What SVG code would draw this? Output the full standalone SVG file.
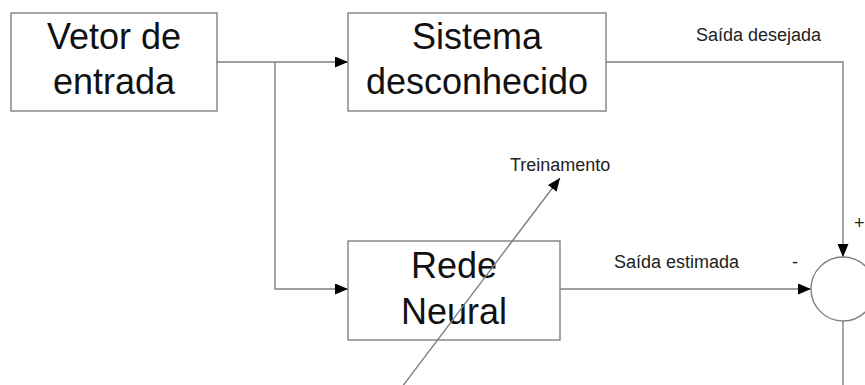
<svg xmlns="http://www.w3.org/2000/svg" width="865" height="385" viewBox="0 0 865 385">
<style>
.box{fill:#fff;stroke:#808080;stroke-width:1.4}
.big{font-family:"Liberation Sans",Arial,sans-serif;font-size:36px;fill:#111;text-anchor:middle}
.small{font-family:"Liberation Sans",Arial,sans-serif;font-size:18px;fill:#222}
.ln{fill:none;stroke:#808080;stroke-width:1.4}
</style>
<defs>
<marker id="ah" markerUnits="userSpaceOnUse" markerWidth="14" markerHeight="12" refX="13" refY="5.5" orient="auto">
<path d="M0,0 L13,5.5 L0,11 z" fill="#000"/>
</marker>
</defs>
<rect width="865" height="385" fill="#fff"/>
<g id="connectors">
<path class="ln" d="M217,62 H348" marker-end="url(#ah)"/>
<path class="ln" d="M275,62 V289 H348" marker-end="url(#ah)"/>
<path class="ln" d="M606,62 H843 V257" marker-end="url(#ah)"/>
<path class="ln" d="M560,289 H811" marker-end="url(#ah)"/>
<path class="ln" d="M843,321 V385"/>
<text class="small" x="696" y="41">Saída desejada</text>
<text class="small" x="614" y="268">Saída estimada</text>
<text class="small" x="854" y="229">+</text>
<text class="small" x="792" y="268">-</text>
</g>
<g id="vetor">
<rect class="box" x="11" y="13" width="206" height="98"/>
<text class="big" x="114" y="49">Vetor de</text>
<text class="big" x="114" y="94">entrada</text>
</g>
<g id="sistema">
<rect class="box" x="348" y="13" width="258" height="98"/>
<text class="big" x="477" y="49">Sistema</text>
<text class="big" x="477" y="94">desconhecido</text>
</g>
<g id="rede">
<rect class="box" x="348" y="241" width="212" height="99"/>
<text class="big" x="454" y="278">Rede</text>
<text class="big" x="454" y="324">Neural</text>
</g>
<g id="somador">
<circle cx="843" cy="289" r="32" fill="#fff" stroke="#808080" stroke-width="1.4"/>
</g>
<g id="treinamento">
<path class="ln" d="M402,387 L560,178" marker-end="url(#ah)"/>
<text class="small" x="510" y="171">Treinamento</text>
</g>
</svg>
